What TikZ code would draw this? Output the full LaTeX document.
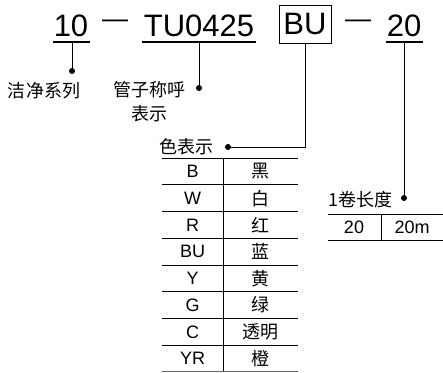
\documentclass[tikz,border=0pt]{standalone}
\usepackage{fontspec}
\setmainfont{Liberation Sans}
\newfontfamily\cjk{Noto Sans CJK SC}
\begin{document}
\begin{tikzpicture}[x=1pt,y=-1pt,
  big/.style={font=\fontsize{31}{31}\selectfont, inner sep=0, anchor=base},
  dashtxt/.style={font=\fontsize{26}{26}\selectfont, inner sep=0},
  lbl/.style={font=\cjk\fontsize{18}{24}\selectfont, inner sep=0},
  cell/.style={font=\fontsize{18}{18}\selectfont, inner sep=0},
  ccell/.style={font=\cjk\fontsize{18}{18}\selectfont, inner sep=0},
  dotmark/.style={circle, fill=black, inner sep=0, minimum size=6pt},
  uline/.style={line width=1.2pt},
  conn/.style={line width=1pt},
  tline/.style={line width=0.9pt},
]
\useasboundingbox (0,0) rectangle (443,372);

% top code
\node[big] (n10) at (71,36) {10};
\node[dashtxt] (d1) at (115,24) {—};
\node[big] (tu) at (199,36) {TU0425};
\node[draw, line width=1pt, minimum width=52pt, minimum height=38pt, inner sep=0,
      font=\fontsize{31}{31}\selectfont] (bu) at (305,24) {BU};
\node[dashtxt] (d2) at (358,24) {—};
\node[big] (n20) at (404,36) {20};

% underlines
\coordinate (u10a) at (53,42); \coordinate (u10b) at (90,42);
\coordinate (utua) at (142,42); \coordinate (utub) at (256,42);
\coordinate (u20a) at (386,42); \coordinate (u20b) at (423,42);
\draw[uline] (u10a) -- (u10b);
\draw[uline] (utua) -- (utub);
\draw[uline] (u20a) -- (u20b);

% connector start points
\coordinate (c10) at (72,42);
\coordinate (ctu) at (199,42);
\coordinate (c20) at (404,42);

% dots
\node[dotmark] (p10) at (72,71) {};
\node[dotmark] (ptu) at (199,88) {};
\node[dotmark] (pbu) at (228,147) {};
\node[dotmark] (p20) at (404,198) {};

% connectors
\draw[conn] (c10) -- (p10.center);
\draw[conn] (ctu) -- (ptu.center);
\draw[conn] (bu.south) |- (pbu.center);
\draw[conn] (c20) -- (p20.center);

% labels
\node[lbl] (l10) at (44,91) {洁净系列};
\node[lbl, align=center] (ltu) at (149,102) {管子称呼\\表示};
\node[lbl] (lbu) at (186,147) {色表示};
\node[lbl] (l20) at (360,200) {1卷长度};

% colour table
\coordinate (tvt) at (223,158);
\coordinate (tvb) at (223,372);
\draw[tline] (tvt) -- (tvb);
\foreach \k in {0,...,7} {
  \coordinate (hl\k) at (162,{158+\k*26.75});
  \coordinate (hr\k) at (298,{158+\k*26.75});
  \draw[tline] (hl\k) -- (hr\k);
}
\coordinate (hl8) at (162,371.4);
\coordinate (hr8) at (298,371.4);
\draw[tline, black!60] (hl8) -- (hr8);
\foreach \c/\z [count=\i] in {B/黑, W/白, R/红, BU/蓝, Y/黄, G/绿, C/透明, YR/橙} {
  \node[cell] (code\i) at (192.5,{158+(\i-0.5)*26.75}) {\c};
  \node[ccell] (name\i) at (260.5,{158+(\i-0.5)*26.75}) {\z};
}

% length table
\coordinate (sl1) at (328,214); \coordinate (sr1) at (443,214);
\coordinate (sl2) at (328,240); \coordinate (sr2) at (443,240);
\coordinate (sv1) at (381,214); \coordinate (sv2) at (381,240);
\draw[tline] (sl1) -- (sr1);
\draw[tline] (sl2) -- (sr2);
\draw[tline] (sv1) -- (sv2);
\node[cell] (len1) at (354,227) {20};
\node[cell] (len2) at (412,227) {20m};
\end{tikzpicture}
\end{document}
